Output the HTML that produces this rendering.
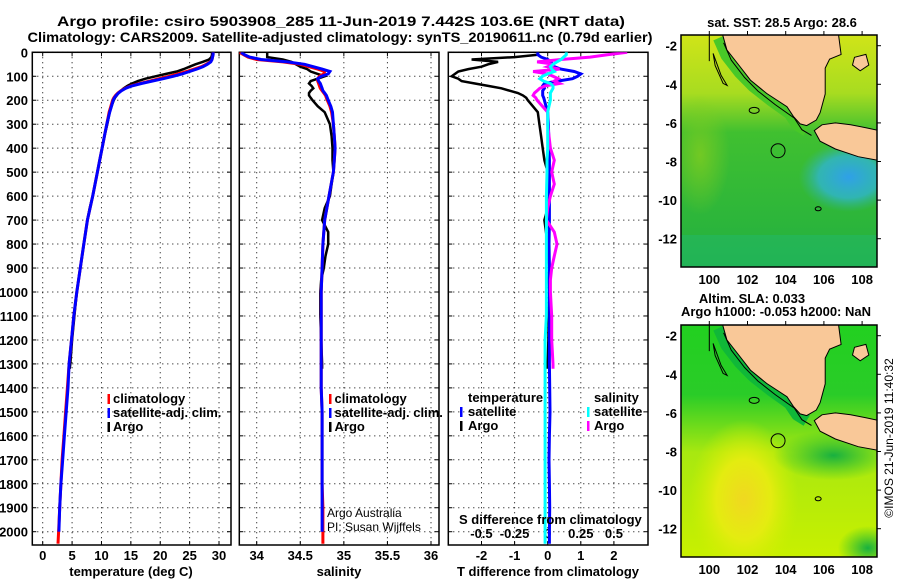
<!DOCTYPE html>
<html><head><meta charset="utf-8"><style>
html,body{margin:0;padding:0;background:#fff;}
svg{display:block;font-family:"Liberation Sans",Arial,sans-serif;}
.b{font-weight:bold;font-size:13px;}
</style></head><body>
<svg id="fig" width="900" height="580" viewBox="0 0 900 580" xmlns="http://www.w3.org/2000/svg">
<defs>
<clipPath id="c1"><rect x="32.3" y="52.3" width="198.7" height="492.7"/></clipPath>
<clipPath id="c2"><rect x="239.3" y="52.3" width="199.7" height="492.7"/></clipPath>
<clipPath id="c3"><rect x="448.3" y="52.3" width="199.7" height="492.7"/></clipPath>
<clipPath id="cm1"><rect x="681" y="35" width="196" height="232"/></clipPath>
<clipPath id="cm2"><rect x="681" y="325" width="196" height="232"/></clipPath>
<linearGradient id="g1top" x1="0" y1="0" x2="0" y2="1">
<stop offset="0" stop-color="#d0e418"/><stop offset="0.25" stop-color="#a8dc20"/><stop offset="0.42" stop-color="#40c030"/><stop offset="1" stop-color="#22b040"/></linearGradient>
<radialGradient id="g1blue" cx="0.5" cy="0.5" r="0.5"><stop offset="0" stop-color="#2fa0e8"/><stop offset="0.6" stop-color="#30b4d0" stop-opacity="0.8"/><stop offset="1" stop-color="#30b4a0" stop-opacity="0"/></radialGradient>
<radialGradient id="g1left" cx="0.5" cy="0.5" r="0.5"><stop offset="0" stop-color="#80cc20" stop-opacity="0.8"/><stop offset="1" stop-color="#80cc20" stop-opacity="0"/></radialGradient>
<linearGradient id="g2base" x1="0" y1="0" x2="0" y2="1">
<stop offset="0" stop-color="#22d020"/><stop offset="0.3" stop-color="#2acc28"/><stop offset="0.55" stop-color="#a8e810"/><stop offset="1" stop-color="#c8f000"/></linearGradient>
<radialGradient id="g2yel" cx="0.5" cy="0.5" r="0.5"><stop offset="0" stop-color="#f0d820"/><stop offset="0.5" stop-color="#e4ec10"/><stop offset="1" stop-color="#d0f000" stop-opacity="0"/></radialGradient>
<radialGradient id="g2grn" cx="0.5" cy="0.5" r="0.5"><stop offset="0" stop-color="#18b040"/><stop offset="1" stop-color="#20c030" stop-opacity="0"/></radialGradient>
</defs>
<g id="titles">
<text x="341" y="26" text-anchor="middle" font-weight="bold" font-size="14" textLength="568" lengthAdjust="spacingAndGlyphs">Argo profile: csiro 5903908_285 11-Jun-2019 7.442S 103.6E (NRT data)</text>
<text x="340" y="42" text-anchor="middle" font-weight="bold" font-size="14" textLength="625" lengthAdjust="spacingAndGlyphs">Climatology: CARS2009. Satellite-adjusted climatology: synTS_20190611.nc (0.79d earlier)</text>
</g>
<g id="panels"></g>
<g id="maps"></g>
<text transform="translate(893,438) rotate(-90)" text-anchor="middle" font-size="12">©IMOS 21-Jun-2019 11:40:32</text>
</svg>
<script>
// ---- data ----
const depthsArgo = [0,10,20,30,40,50,60,70,80,90,100,110,120,130,140,150,160,170,180,190,200,225,250,300,350,400,450,500,550,600,650,700,750,800,850,900,950,1000,1100,1200,1300,1320];
const depthsClim = [0,10,20,30,40,50,60,70,80,90,100,110,120,130,140,150,160,170,180,190,200,225,250,300,350,400,450,500,600,700,800,900,1000,1100,1200,1300,1400,1500,1600,1700,1800,1900,2000,2050];
const tempArgo = [28.8,28.8,28.7,28.3,27.2,26.0,25.0,24.0,22.8,21.0,19.2,17.5,16.2,15.2,14.4,13.8,13.3,12.9,12.6,12.3,12.1,11.7,11.4,11.0,10.5,10.1,9.7,9.3,8.9,8.5,8.0,7.6,7.3,7.0,6.7,6.4,6.1,5.8,5.4,5.0,4.7,4.6];
const tempClim = [29.0,29.0,28.9,28.8,28.5,27.8,27.0,25.8,24.5,23.0,21.5,19.8,18.2,16.5,15.0,14.0,13.3,12.8,12.4,12.1,11.9,11.6,11.3,10.9,10.5,10.1,9.7,9.3,8.5,7.6,7.0,6.4,5.8,5.3,4.9,4.5,4.2,3.9,3.6,3.3,3.1,2.9,2.7,2.6];
const tempSat = [29.0,29.0,28.9,28.8,28.6,28.0,27.3,26.2,25.0,23.7,22.2,20.5,18.6,16.8,15.2,14.1,13.4,12.9,12.5,12.2,12.0,11.7,11.4,10.9,10.5,10.1,9.7,9.3,8.5,7.6,7.0,6.4,5.8,5.3,4.9,4.5,4.3,4.0,3.7,3.4,3.1,2.9,2.75,2.75];
const salArgo = [34.12,34.12,34.12,34.3,34.4,34.45,34.5,34.58,34.62,34.7,34.78,34.7,34.62,34.6,34.63,34.65,34.62,34.6,34.6,34.62,34.64,34.7,34.78,34.84,34.86,34.87,34.87,34.88,34.86,34.84,34.78,34.75,34.82,34.82,34.79,34.77,34.74,34.73,34.73,34.74,34.75,34.75];
const salClim = [33.8,33.85,33.9,34.0,34.3,34.5,34.6,34.7,34.78,34.77,34.72,34.7,34.7,34.71,34.72,34.73,34.75,34.77,34.79,34.8,34.81,34.84,34.86,34.88,34.89,34.9,34.89,34.88,34.83,34.78,34.76,34.75,34.74,34.74,34.74,34.74,34.74,34.75,34.75,34.75,34.75,34.76,34.76,34.76];
const salSat = [33.82,33.86,33.92,34.05,34.35,34.55,34.65,34.75,34.84,34.82,34.74,34.7,34.71,34.73,34.74,34.75,34.76,34.78,34.8,34.81,34.82,34.85,34.87,34.88,34.89,34.9,34.89,34.88,34.83,34.78,34.76,34.75,34.74,34.74,34.74,34.74,34.74,34.75,34.75,34.75,34.75,34.75,34.75,34.75];
const tdiffArgo = [-0.3,-0.3,-1.0,-2.3,-1.5,-1.8,-2.0,-2.4,-2.7,-2.8,-2.9,-2.7,-2.6,-2.2,-1.8,-1.4,-1.15,-0.9,-0.75,-0.65,-0.6,-0.45,-0.3,-0.25,-0.2,-0.15,-0.1,0,0.02,0.05,0.0,-0.1,-0.05,0.0,0.02,0.05,0.03,0.05,0.03,0.02,0.0,0.0];
const sdiffArgo = [0.6,0.45,0.32,0.1,-0.08,0.05,0,0.09,-0.11,0.0,0.04,0.08,0.05,0.09,-0.02,-0.06,-0.08,-0.1,-0.11,-0.09,-0.08,-0.04,0,0.0,0.01,0.02,0.05,0.03,0.05,0.02,0.0,-0.01,0.05,0.07,0.05,0.03,0.02,0.02,0.03,0.03,0.04,0.04];
const tdiffSat = [-0.3,-0.3,-0.2,0.0,0.1,0.15,0.2,0.4,0.8,1.0,0.9,0.75,0.3,-0.1,-0.15,-0.1,-0.15,-0.15,-0.15,-0.12,-0.1,-0.05,0,0.02,0.03,0.04,0.05,0.05,0.05,0.05,0.04,0.05,0.05,0.06,0.05,0.05,0.06,0.07,0.05,0.04,0.05,0.06,0.05,0.05];
const sdiffSat = [0.14,0.14,0.12,0.1,0.07,0.04,0.02,0.03,0.05,0.0,-0.04,-0.06,-0.03,0.02,0.04,0.04,0.03,0.02,0.02,0.02,0.02,0.01,0,0,0,0,-0.005,-0.005,-0.01,-0.01,-0.01,-0.01,-0.01,-0.01,-0.02,-0.02,-0.02,-0.02,-0.02,-0.02,-0.02,-0.02,-0.02,-0.02];
const depthTicks = [0,100,200,300,400,500,600,700,800,900,1000,1100,1200,1300,1400,1500,1600,1700,1800,1900,2000];
const tempTicks = [0,5,10,15,20,25,30];
const salTicks = [34,34.5,35,35.5,36];
const tdTicks = [-2,-1,0,1,2];
const sdTicks = [-0.5,-0.25,0,0.25,0.5];
const latTicks = [-2,-4,-6,-8,-10,-12];
const lonTicks = [100,102,104,106,108];
const argoLon = 103.6, argoLat = -7.442;

// ---- scales ----
const yD = d => 52.3 + d*0.2397;
const xT = t => 42.7 + t*5.877;
const xS = s => 256.7 + (s-34)*87.15;
const xTd = v => 547.7 + v*33.1;
const xSd = v => 547.7 + v*132.5;
const NS = "http://www.w3.org/2000/svg";
function mk(tag, attrs, parent){const e=document.createElementNS(NS,tag);for(const k in attrs)e.setAttribute(k,attrs[k]);parent.appendChild(e);return e;}
const panels = document.getElementById('panels');

function line(depths, vals, xf, color, w, clip, name){
  let d=''; depths.forEach((z,i)=>{d+=(i?'L':'M')+xf(vals[i]).toFixed(1)+','+yD(z).toFixed(1);});
  const p=mk('path',{d:d,fill:'none',stroke:color,'stroke-width':w,'stroke-linejoin':'miter','clip-path':'url(#'+clip+')'},panels);
  
  
}
function frame(x0,x1,clip,xticks,xf,name,labelY){
  const g=mk('g',{},panels);
  
  
  depthTicks.forEach(d=>{const y=yD(d);
    mk('line',{x1:x0,x2:x1,y1:y,y2:y,stroke:'#000','stroke-width':1,'stroke-dasharray':'1,4'},g);
    mk('line',{x1:x0,x2:x0+4,y1:y,y2:y,stroke:'#000'},g);mk('line',{x1:x1-4,x2:x1,y1:y,y2:y,stroke:'#000'},g);});
  xticks.forEach(v=>{const x=xf(v);
    mk('line',{x1:x,x2:x,y1:52.3,y2:545,stroke:'#000','stroke-width':1,'stroke-dasharray':'1,4'},g);
    mk('line',{x1:x,x2:x,y1:541,y2:545,stroke:'#000'},g);mk('line',{x1:x,x2:x,y1:52.3,y2:56.3,stroke:'#000'},g);
    if(labelY){const t=mk('text',{x:x,y:labelY,'text-anchor':'middle','class':'b'},g);t.textContent=v;
      
      }
  });
  mk('rect',{x:x0,y:52.3,width:x1-x0,height:545-52.3,fill:'none',stroke:'#000','stroke-width':1.5},g);
}
frame(32.3,231,'c1',tempTicks,xT,'temperature-panel',560);
frame(239.3,439,'c2',salTicks,xS,'salinity-panel',560);
frame(448.3,648,'c3',tdTicks,xTd,'difference-panel',560);
depthTicks.forEach(d=>{const t=mk('text',{x:28,y:yD(d)+5,'text-anchor':'end','class':'b'},panels);t.textContent=d;
  
  });
sdTicks.forEach(v=>{const t=mk('text',{x:xSd(v),y:538,'text-anchor':'middle','class':'b'},panels);t.textContent=v===0?'0':String(v);
  
  });
line(depthsArgo,tempArgo,xT,'#000',2.5,'c1','temp-argo-line');
line(depthsClim,tempClim,xT,'#f00',3,'c1','temp-climatology-line');
line(depthsClim.slice(0,43),tempSat.slice(0,43),xT,'#00f',3,'c1','temp-satellite-line');
line(depthsArgo,salArgo,xS,'#000',2.5,'c2','sal-argo-line');
line(depthsClim,salClim,xS,'#f00',3,'c2','sal-climatology-line');
line(depthsClim.slice(0,43),salSat.slice(0,43),xS,'#00f',3,'c2','sal-satellite-line');
line(depthsArgo,tdiffArgo,xTd,'#000',2.5,'c3','tdiff-argo-line');
line(depthsClim,tdiffSat,xTd,'#00f',3,'c3','tdiff-satellite-line');
line(depthsArgo,sdiffArgo,xSd,'#f0f',3,'c3','sdiff-argo-line');
line(depthsClim,sdiffSat,xSd,'#0ff',3,'c3','sdiff-satellite-line');

function txt(x,y,s,cls,anchor,name,extra){const t=mk('text',Object.assign({x:x,y:y,'text-anchor':anchor||'start'},cls?{'class':cls}:{},extra||{}),panels);t.textContent=s;
  
  return t;}
function bar(x,y,c){mk('rect',{x:x,y:y-10,width:2.5,height:10,fill:c},panels);}
txt(131,576,'temperature (deg C)','b','middle','x-axis-title-temperature');
txt(339,576,'salinity','b','middle','x-axis-title-salinity');
txt(548,576,'T difference from climatology','b','middle','x-axis-title-t-diff');
txt(459,524,'S difference from climatology','b','start','s-diff-axis-title');
[['climatology','#f00',403],['satellite-adj. clim.','#00f',417],['Argo','#000',431]].forEach(l=>{
  bar(107.5,l[2]+1,l[1]);txt(113,l[2],l[0],'b','start','legend-entry-temp');
  bar(329,l[2]+1,l[1]);txt(334.5,l[2],l[0],'b','start','legend-entry-sal');});
txt(468,402,'temperature','b','start','legend-title-temperature');
txt(594,402,'salinity','b','start','legend-title-salinity');
bar(460,417,'#00f');txt(468,416,'satellite','b','start','legend-temp-satellite');
bar(460,431,'#000');txt(468,430,'Argo','b','start','legend-temp-argo');
bar(587,417,'#0ff');txt(594,416,'satellite','b','start','legend-sal-satellite');
bar(587,431,'#f0f');txt(594,430,'Argo','b','start','legend-sal-argo');
txt(327,517,'Argo Australia',null,'start','credit-argo-australia',{'font-size':12});
txt(327,531,'PI: Susan Wijffels',null,'start','credit-pi',{'font-size':12});

// ---- maps ----
const sumatra = [[100.66,-1.3],[100.92,-2.22],[101.6,-3.08],[102.15,-3.78],[103.0,-4.47],[104.07,-5.16],[104.4,-5.66],[104.76,-6.05],[105.1,-6.14],[105.6,-5.85],[105.8,-5.47],[106.07,-4.5],[106.07,-3.16],[106.3,-2.7],[106.9,-2.45],[106.75,-1.3]];
const belitung = [[107.6,-2.6],[108.2,-2.45],[108.35,-3.0],[107.9,-3.3],[107.5,-3.0]];
const java = [[105.5,-6.4],[105.9,-6.1],[106.6,-6.0],[107.4,-6.1],[108.2,-6.25],[108.9,-6.4],[108.9,-7.95],[107.8,-7.75],[106.6,-7.35],[105.8,-6.95]];
const coastBand = [[100.5,-1.6],[100.9,-2.5],[101.6,-3.4],[102.3,-4.1],[103.2,-4.8],[104.2,-5.5],[104.6,-6.1],[105.1,-6.4]];
const maps = document.getElementById('maps');
function drawMap(top, name, isSST){
  const px = lon => 709.3 + (lon-100)*19.1;
  const py = lat => top + 10.7 + (-2-lat)*19.3;
  const g=mk('g',{},maps);
  
  
  const cg=mk('g',{'clip-path':'url(#'+(isSST?'cm1':'cm2')+')'},g);
  if(isSST){
    mk('rect',{x:681,y:top,width:196,height:232,fill:'url(#g1top)'},cg);
    mk('ellipse',{cx:700,cy:top+120,rx:30,ry:60,fill:'url(#g1left)'},cg);
    mk('ellipse',{cx:px(107.3),cy:py(-8.8),rx:50,ry:35,fill:'url(#g1blue)'},cg);
    mk('rect',{x:681,y:top+200,width:196,height:32,fill:'#20b878',opacity:0.4},cg);
  } else {
    mk('rect',{x:681,y:top,width:196,height:232,fill:'url(#g2base)'},cg);
    mk('ellipse',{cx:px(101.8),cy:py(-10.5),rx:55,ry:80,fill:'url(#g2yel)'},cg);
    mk('ellipse',{cx:px(106.5),cy:py(-8.2),rx:60,ry:25,fill:'url(#g2grn)'},cg);
    mk('ellipse',{cx:px(108.3),cy:py(-13),rx:30,ry:22,fill:'url(#g2grn)'},cg);
  }
  mk('polyline',{points:coastBand.map(p=>px(p[0]).toFixed(1)+','+py(p[1]).toFixed(1)).join(' '),fill:'none',stroke:isSST?'#48c828':'#10b838','stroke-width':12,'stroke-linejoin':'round'},cg);
  mk('polyline',{points:coastBand.map(p=>px(p[0]+0.25).toFixed(1)+','+py(p[1]-0.25).toFixed(1)).join(' '),fill:'none',stroke:'#000','stroke-width':1},cg);
  [sumatra,belitung,java].forEach(poly=>{
    mk('polygon',{points:poly.map(p=>px(p[0]).toFixed(1)+','+py(p[1]).toFixed(1)).join(' '),fill:'#f9c898',stroke:'#000','stroke-width':1},cg);});
  mk('path',{d:'M'+px(100.2)+','+py(-2.4)+' l8,22 l6,10 l-4,-2 l-8,-18 z',fill:'none',stroke:'#000'},cg);
  mk('ellipse',{cx:px(102.35),cy:py(-5.35),rx:5,ry:3,fill:'none',stroke:'#000'},cg);
  mk('ellipse',{cx:px(105.7),cy:py(-10.45),rx:3,ry:2,fill:'none',stroke:'#000'},cg);
  mk('line',{x1:px(100),x2:px(100),y1:top,y2:py(-2.8),stroke:'#000'},cg);
  const c=mk('circle',{cx:px(argoLon),cy:py(argoLat),r:7,fill:'none',stroke:'#000','stroke-width':1},cg);
  
  
  mk('rect',{x:681,y:top,width:196,height:232,fill:'none',stroke:'#000','stroke-width':1.5},g);
  latTicks.forEach(l=>{const y=py(l);
    mk('line',{x1:877,x2:881,y1:y,y2:y,stroke:'#000'},g);
    const t=mk('text',{x:677,y:y+5,'text-anchor':'end','class':'b'},g);t.textContent=l;
    
    });
  lonTicks.forEach(l=>{const x=px(l);
    mk('line',{x1:x,x2:x,y1:top,y2:top-4,stroke:'#000'},g);
    const t=mk('text',{x:x,y:top+249,'text-anchor':'middle','class':'b'},g);t.textContent=l;
    
    });
}
drawMap(35,'sst-map',true);
drawMap(325,'sla-map',false);
function mt(x,y,s,name){const t=mk('text',{x:x,y:y,'text-anchor':'middle','class':'b'},maps);t.textContent=s;
  
  }
mt(782,27,'sat. SST: 28.5 Argo: 28.6','sst-map-title');
mt(752,303,'Altim. SLA: 0.033','sla-map-title');
mt(776,316,'Argo h1000: -0.053 h2000: NaN','sla-map-subtitle');
</script>
</body></html>
